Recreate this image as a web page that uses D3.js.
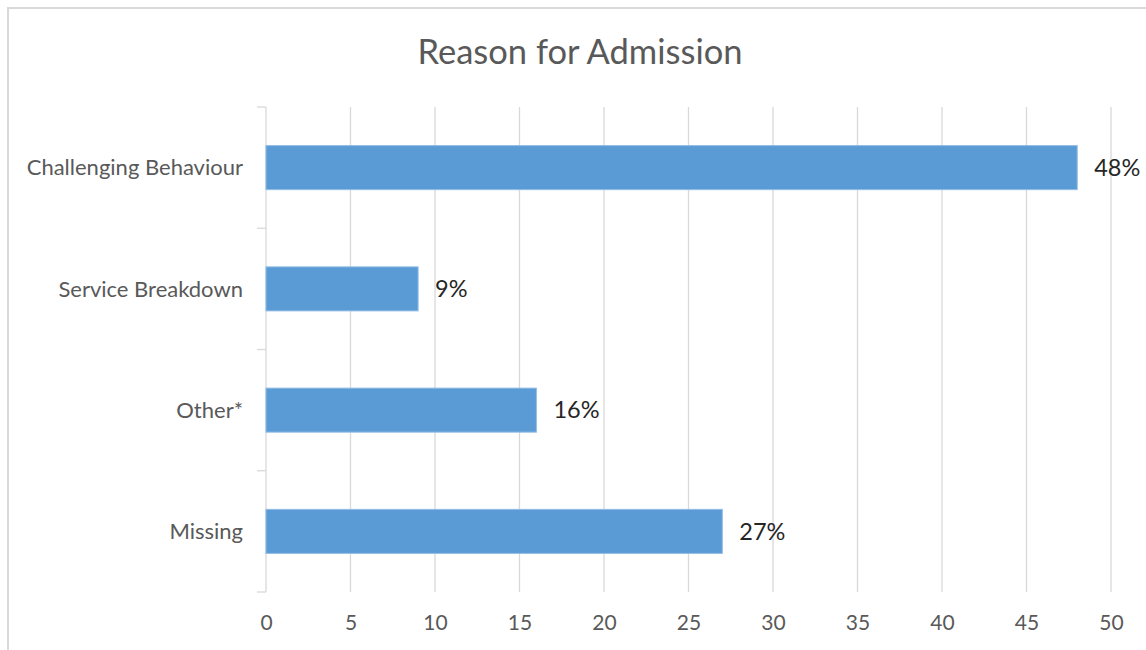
<!doctype html>
<html>
  <head>
    <script src="https://d3js.org/d3.v7.min.js"></script>
    <style>
      body { margin: 0; background: #fff; }
      svg text { font-family: Lato, "Open Sans", sans-serif; }
    </style>
  </head>
  <body>
    <svg class="chart" width="1146" height="650"></svg>
    <script>
      // chart data
      var categories = ["Challenging Behaviour", "Service Breakdown", "Other*", "Missing"];
      var values = [48, 9, 16, 27];
      var valueLabels = ["48%", "9%", "16%", "27%"];
      var xTicks = [0, 5, 10, 15, 20, 25, 30, 35, 40, 45, 50];

      var svg = d3.select("svg");

      // outer chart border (only left and top fall inside the picture)
      svg.append("rect")
        .attr("x", 8).attr("y", 8)
        .attr("width", 1160).attr("height", 660)
        .attr("fill", "none")
        .attr("stroke", "#d9d9d9")
        .attr("stroke-width", 2);

      var plotLeft = 266, plotRight = 1111, plotTop = 107, plotBottom = 592;

      var xScale = d3.scaleLinear().domain([0, 50]).range([plotLeft, plotRight]);
      var yScale = d3.scaleBand().domain(categories).range([plotTop, plotBottom])
        .paddingInner(0.637).paddingOuter(0.3185);
      var yBand = d3.scaleBand().domain(categories).range([plotTop, plotBottom]);

      svg.append("text")
        .attr("x", 580).attr("y", 64)
        .attr("text-anchor", "middle")
        .attr("font-size", 34.5)
        .attr("fill", "#595959")
        .text("Reason for Admission");

      // vertical gridlines
      svg.append("g").selectAll("line")
        .data(xTicks.slice(1))
        .enter().append("line")
        .attr("x1", function(d){return xScale(d);})
        .attr("x2", function(d){return xScale(d);})
        .attr("y1", plotTop).attr("y2", plotBottom)
        .attr("stroke", "#d9d9d9")
        .attr("stroke-width", 1.3);

      // x axis labels
      var xAxis = svg.append("g")
        .attr("transform", "translate(0," + plotBottom + ")")
        .call(d3.axisBottom(xScale).tickValues(xTicks).tickSize(0).tickPadding(23));
      xAxis.select(".domain").remove();
      xAxis.selectAll("text")
        .attr("font-size", 21)
        .attr("font-family", "Lato, sans-serif")
        .attr("fill", "#595959");

      // y axis with category ticks at band boundaries
      var yAxis = svg.append("g");
      yAxis.append("line")
        .attr("x1", plotLeft).attr("x2", plotLeft)
        .attr("y1", plotTop).attr("y2", plotBottom)
        .attr("stroke", "#d9d9d9").attr("stroke-width", 1.3);
      var bounds = categories.map(function(c){return yBand(c);}).concat([plotBottom]);
      yAxis.selectAll(".cat-tick")
        .data(bounds)
        .enter().append("line")
        .attr("class", "cat-tick")
        .attr("x1", plotLeft - 9).attr("x2", plotLeft)
        .attr("y1", function(d){return d;})
        .attr("y2", function(d){return d;})
        .attr("stroke", "#d9d9d9").attr("stroke-width", 1.3);
      yAxis.selectAll(".cat-label")
        .data(categories)
        .enter().append("text")
        .attr("class", "cat-label")
        .attr("x", 243)
        .attr("y", function(d){return yBand(d) + yBand.bandwidth() / 2;})
        .attr("dy", "0.35em")
        .attr("text-anchor", "end")
        .attr("font-size", 22)
        .attr("fill", "#595959")
        .text(function(d){return d;});

      // bars
      svg.selectAll(".bar")
        .data(categories)
        .enter().append("rect")
        .attr("class", "bar")
        .attr("x", xScale(0))
        .attr("y", function(d){return yScale(d);})
        .attr("width", function(d, i){return xScale(values[i]) - xScale(0);})
        .attr("height", yScale.bandwidth())
        .attr("fill", "#5b9bd5")
        .attr("stroke", "#8fbbe6")
        .attr("stroke-width", 1);

      // value labels
      svg.selectAll(".val")
        .data(categories)
        .enter().append("text")
        .attr("class", "val")
        .attr("x", function(d, i){return xScale(values[i]) + 17;})
        .attr("y", function(d){return yScale(d) + yScale.bandwidth() / 2;})
        .attr("dy", "0.35em")
        .attr("font-size", 23.5)
        .attr("fill", "#262626")
        .text(function(d, i){return valueLabels[i];});
    </script>
  </body>
</html>
